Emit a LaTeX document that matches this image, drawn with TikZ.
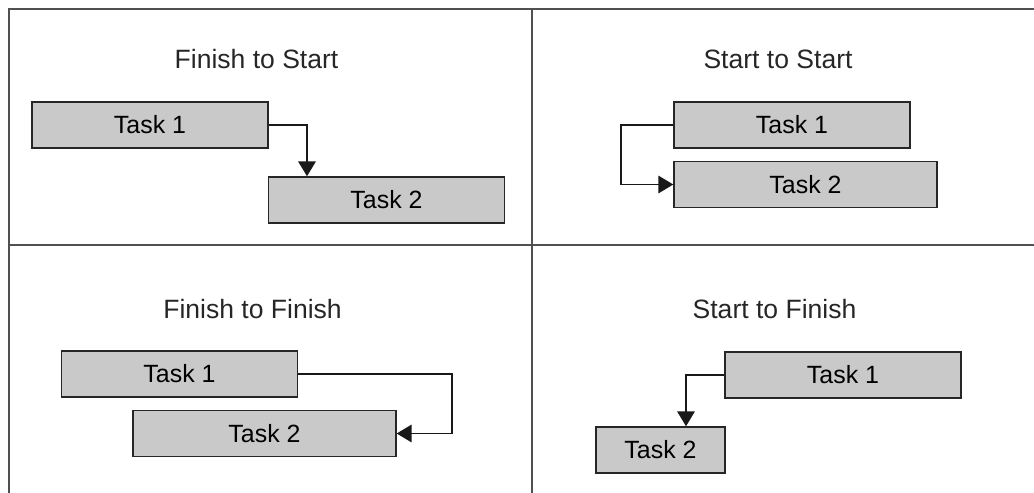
\documentclass[tikz,border=0pt]{standalone}
\usepackage{fontspec}
\setmainfont{Liberation Sans}
\usetikzlibrary{arrows.meta}
\definecolor{barfill}{HTML}{C9C9C9}
\definecolor{framegray}{HTML}{505050}
\begin{document}
\begin{tikzpicture}[x=0.02cm, y=-0.02cm,
        task/.style={draw=black!85, fill=barfill, line width=0.85pt, inner sep=0pt,
            minimum width=4.72cm, minimum height=0.92cm, font=\fontsize{14.2}{16}\selectfont},
        title/.style={anchor=base, font=\fontsize{15.1}{17}\selectfont, text=black!85},
        conn/.style={draw=black!90, line width=0.85pt, -{Triangle[length=8.5pt, width=10pt]}}]
        \useasboundingbox (0,0) rectangle (1034,493);

        % Cadre
        \draw[framegray, line width=1.3pt] (9,493) -- (9,9) -- (1034,9);
        \draw[framegray, line width=1.3pt] (9,245) -- (1034,245);
        \draw[framegray, line width=1.3pt] (532,9) -- (532,493);

        % Finish to Start
        \node[title] (fsT) at (256.5,69) {Finish to Start};
        \node[task] (fsA) at (150,125) {Task 1};
        \node[task] (fsB) at (386.5,200) {Task 2};
        \coordinate (fsBend) at (307,125);
        \draw[conn] (fsA.east) -| (fsB.north -| fsBend);

        % Start to Start
        \node[title] (ssT) at (778,69) {Start to Start};
        \node[task] (ssA) at (792,125) {Task 1};
        \node[task, minimum width=5.26cm] (ssB) at (805.5,184.5) {Task 2};
        \coordinate (ssBend) at (621,125);
        \draw[conn] (ssA.west) -- (ssBend) |- (ssB.west);

        % Finish to Finish
        \node[title] (ffT) at (252.5,318) {Finish to Finish};
        \node[task] (ffA) at (179.5,374) {Task 1};
        \node[task, minimum width=5.26cm] (ffB) at (264.5,433.5) {Task 2};
        \coordinate (ffBend) at (452,374);
        \draw[conn] (ffA.east) -- (ffBend) |- (ffB.east);

        % Start to Finish
        \node[title] (sfT) at (774.5,318) {Start to Finish};
        \node[task] (sfA) at (843,375) {Task 1};
        \node[task, minimum width=2.58cm] (sfB) at (660.5,450) {Task 2};
        \coordinate (sfBend) at (686,375);
        \draw[conn] (sfA.west) -| (sfB.north -| sfBend);
    \end{tikzpicture}
\end{document}
